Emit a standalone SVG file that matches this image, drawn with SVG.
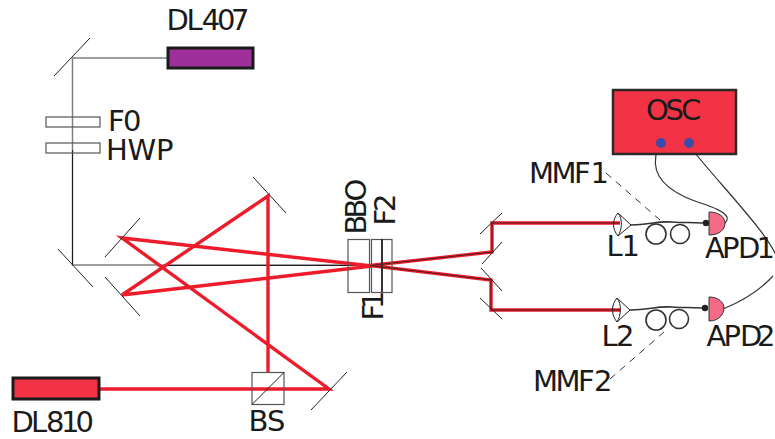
<svg xmlns="http://www.w3.org/2000/svg" width="775" height="439" viewBox="0 0 775 439">
<style>
text{font-family:"DejaVu Sans","Liberation Sans",sans-serif;font-size:29px;fill:#1a1a1a}
.red{fill:none;stroke:#ee1c2b;stroke-width:3.400;stroke-linejoin:miter}
.core{fill:none;stroke:#231f20;stroke-width:1}
.thin{fill:none;stroke:#231f20;stroke-width:.8}
.grey{fill:none;stroke:#808080;stroke-width:1.500}
.mir{fill:none;stroke:#231f20;stroke-width:1}
.plate{fill:none;stroke:#555;stroke-width:1.200}
.wire{fill:none;stroke:#333;stroke-width:1.200}
.fib{fill:none;stroke:#333;stroke-width:1.600}
.dash{fill:none;stroke:#333;stroke-width:1;stroke-dasharray:7 6}
.las{stroke:#1a1a1a;stroke-width:3}
.lens{fill:none;stroke:#231f20;stroke-width:1}
.apd{fill:#f56b85;stroke:#333;stroke-width:1}
.port{fill:#3c4ba8}
.dot{fill:#231f20}
</style>
<g id="connectors">
<path class="grey" d="M167,58H72.500V265H348"/>
<path class="core" d="M72.500,150V265M165,265.500H372"/>
<path class="red" d="M99,389H329L122,238L372,266L122,295L268,196V372"/>
<path class="red" d="M370,265.500L492,252V223H620M370,265.500L491,280V310H620"/>
<path class="thin" d="M370,265.500L492,252V223H620M370,265.500L491,280V310H620"/>
<path class="fib" d="M631,225C650,225 655,221 672,222C685,223 690,222 703,223"/>
<path class="fib" d="M630,310C650,310 655,306 672,307C685,308 690,307 702,308"/>
<path class="wire" d="M658,148C650,170 660,185 685,197C700,204 722,208 727,217C728,221 726,222 724,224"/>
<path class="wire" d="M691,148C720,185 775,240 778,262"/>
<path class="wire" d="M723,309C745,300 762,288 773,276"/>
<path class="dash" d="M606,173L660,220"/>
<path class="dash" d="M610,379L664,332"/>
</g>
<g id="DL407"><rect class="las" x="168" y="48" width="85" height="20" fill="#9e2f9b"/><text x="166.500 186.500 201.800 216.900 231" y="30">DL407</text></g>
<g id="M0"><path class="mir" d="M54,76L90,38"/></g>
<g id="F0"><rect class="plate" x="46" y="117" width="54" height="10"/><text x="108 123" y="131">F0</text></g>
<g id="HWP"><rect class="plate" x="46" y="143" width="54" height="10"/><text x="106 127.500 156" y="160">HWP</text></g>
<g id="M1"><path class="mir" d="M58,249L93,287"/></g>
<g id="M2"><path class="mir" d="M105,257L140,218"/></g>
<g id="M3"><path class="mir" d="M105,277L140,316"/></g>
<g id="M4"><path class="mir" d="M253,177L286,213"/></g>
<g id="M5"><path class="mir" d="M311,410L347,372"/></g>
<g id="DL810"><rect class="las" x="13" y="378" width="86" height="21" fill="#f23346"/><text x="11.500 31 46 61 75.500" y="432">DL810</text></g>
<g id="BS"><rect x="252" y="372.500" width="32" height="32" fill="none" stroke="#555" stroke-width="1.200"/><path class="mir" d="M252,404.500L284,372.500"/><text x="248.500 267" y="431">BS</text></g>
<g id="BBO"><rect class="plate" x="348" y="239.500" width="21.500" height="53"/><text transform="translate(366,234.500) rotate(-90)" x="0 16 33">BBO</text></g>
<g id="F1"><rect class="plate" x="371.500" y="239.500" width="10.500" height="53"/><text transform="translate(383,320.500) rotate(-90)" x="0 11.500">F1</text></g>
<g id="F2"><rect class="plate" x="382" y="239.500" width="10" height="53"/><path d="M382,239V292" stroke="#231f20" stroke-width="1.500"/><text transform="translate(395,225.500) rotate(-90)" x="0 13.500">F2</text></g>
<g id="M6"><path class="mir" d="M480,234L502,213"/></g>
<g id="M7"><path class="mir" d="M482,264L502,242"/></g>
<g id="M8"><path class="mir" d="M481,268L502,291"/></g>
<g id="M9"><path class="mir" d="M480,298L502,319"/></g>
<g id="OSC"><rect x="613" y="90" width="123" height="64" fill="#f23346" stroke="#2a2a2a" stroke-width="2.500"/><circle class="port" cx="661" cy="143" r="5"/><circle class="port" cx="689" cy="143" r="5"/><text x="646 665.500 681" y="120">OSC</text></g>
<g id="L1"><path class="lens" d="M618,213C612,220 612,229 618,236C622,230 623,219 618,213ZM618,213L631,225L618,236"/><text x="606.500 621.600" y="256">L1</text></g>
<g id="MMF1"><circle class="fib" cx="656" cy="234" r="10"/><circle class="fib" cx="680" cy="234" r="9.500"/><text x="529 551.500 574 590.500" y="183">MMF1</text></g>
<g id="APD1"><path class="apd" d="M709,212C720,212 725,218 725,223C725,229 720,235 709,235Z"/><circle class="dot" cx="706" cy="223" r="3.200"/><text x="705 722 738 756.500" y="258">APD1</text></g>
<g id="L2"><path class="lens" d="M617,298C611,305 611,315 617,322C621,316 622,304 617,298ZM617,298L630,310L617,322"/><text x="601.500 616" y="346">L2</text></g>
<g id="MMF2"><circle class="fib" cx="656" cy="320" r="10"/><circle class="fib" cx="679" cy="319" r="9.500"/><text x="533 555.500 578 594" y="391">MMF2</text></g>
<g id="APD2"><path class="apd" d="M709,297C719,297 724,303 724,308C724,314 719,321 709,321Z"/><circle class="dot" cx="705" cy="308" r="3.200"/><text x="706.500 723.500 740 757" y="346">APD2</text></g>
</svg>
